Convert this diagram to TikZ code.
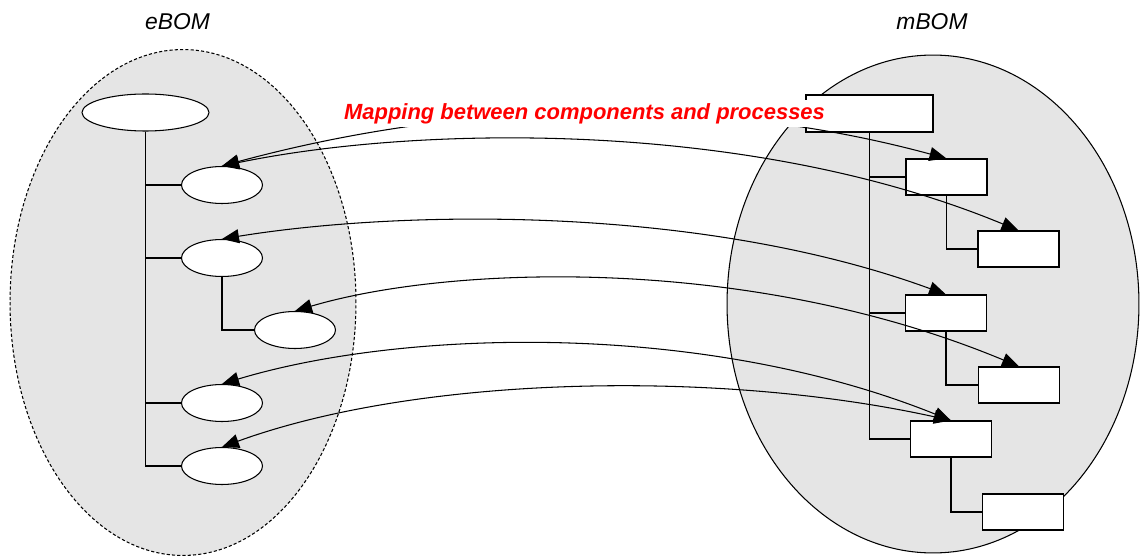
\documentclass[tikz,border=0pt]{standalone}
\usepackage{fontspec}
\setmainfont{Liberation Sans}
\usetikzlibrary{shapes.geometric,arrows.meta}

\begin{document}
\begin{tikzpicture}
    [x=0.02cm,y=-0.02cm,line width=0.6pt,
     epart/.style={draw,ellipse,fill=white,inner sep=0pt,minimum width=1.62cm,minimum height=0.74cm},
     mpart/.style={draw,rectangle,fill=white,inner sep=0pt,minimum width=1.62cm,minimum height=0.72cm},
     map/.style={{Triangle[length=3.4mm,width=2.8mm]}-{Triangle[length=3.4mm,width=2.8mm]}},
     side/.style={font=\fontsize{13}{15}\selectfont\itshape}]
  \useasboundingbox (0,0) rectangle (1140,557);
  % the two sides
  \draw[dash pattern=on 1.8pt off 1.2pt,fill=black!10] (183,302.5) ellipse [x radius=3.46cm,y radius=5.06cm];
  \draw[fill=black!10] (933,304) ellipse [x radius=4.12cm,y radius=4.98cm];
  \node[side] (ebom) at (177.5,22) {eBOM};
  \node[side] (mbom) at (932,22) {mBOM};

  % eBOM tree
  \node[epart,minimum width=2.54cm] (eroot) at (145.5,112.5) {};
  \node[epart] (e1) at (222,185) {};
  \node[epart] (e2) at (222,258) {};
  \node[epart] (e3) at (295,330) {};
  \node[epart] (e4) at (222,403) {};
  \node[epart] (e5) at (222,466) {};
  \foreach \n in {e1,e2,e4,e5}
    \draw (eroot) |- (\n);
  \draw (e2) |- (e3);

  % mBOM tree
  \node[mpart,minimum width=2.54cm,minimum height=0.74cm] (mroot) at (869.5,113.5) {};
  \node[mpart] (m1) at (946.5,177) {};
  \node[mpart] (m2) at (1018.5,249) {};
  \node[mpart] (m3) at (946,313) {};
  \node[mpart] (m4) at (1019,385) {};
  \node[mpart] (m5) at (951,439) {};
  \node[mpart] (m6) at (1023,512) {};
  \foreach \n in {m1,m3,m5}
    \draw (mroot) |- (\n);
  \draw (m1) |- (m2);
  \draw (m3) |- (m4);
  \draw (m5) |- (m6);

  % mapping
  \draw[map] (e1.north) .. controls +(240,-65) and +(-240,-65) .. (m1.north);
  \draw[map] (e1.north) .. controls +(198,-41) and +(-268,-111) .. (m2.north);
  \draw[map] (e2.north) .. controls +(178,-29) and +(-246,-90) .. (m3.north);
  \draw[map] (e3.north) .. controls +(155,-46) and +(-269,-112) .. (m4.north);
  \draw[map] (e4.north) .. controls +(178,-54) and +(-251,-101) .. (m5.north);
  \draw[map] (e5.north) .. controls +(198,-72) and +(-231,-51) .. (m5.north);

  \node[fill=white,text=red,font=\fontsize{12.5}{15}\selectfont\bfseries\itshape,
        inner xsep=0.04cm,inner ysep=0pt,text height=0.4cm,text depth=0.14cm,anchor=base]
    (maplabel) at (584.5,120) {Mapping between components and processes};
\end{tikzpicture}
\end{document}
